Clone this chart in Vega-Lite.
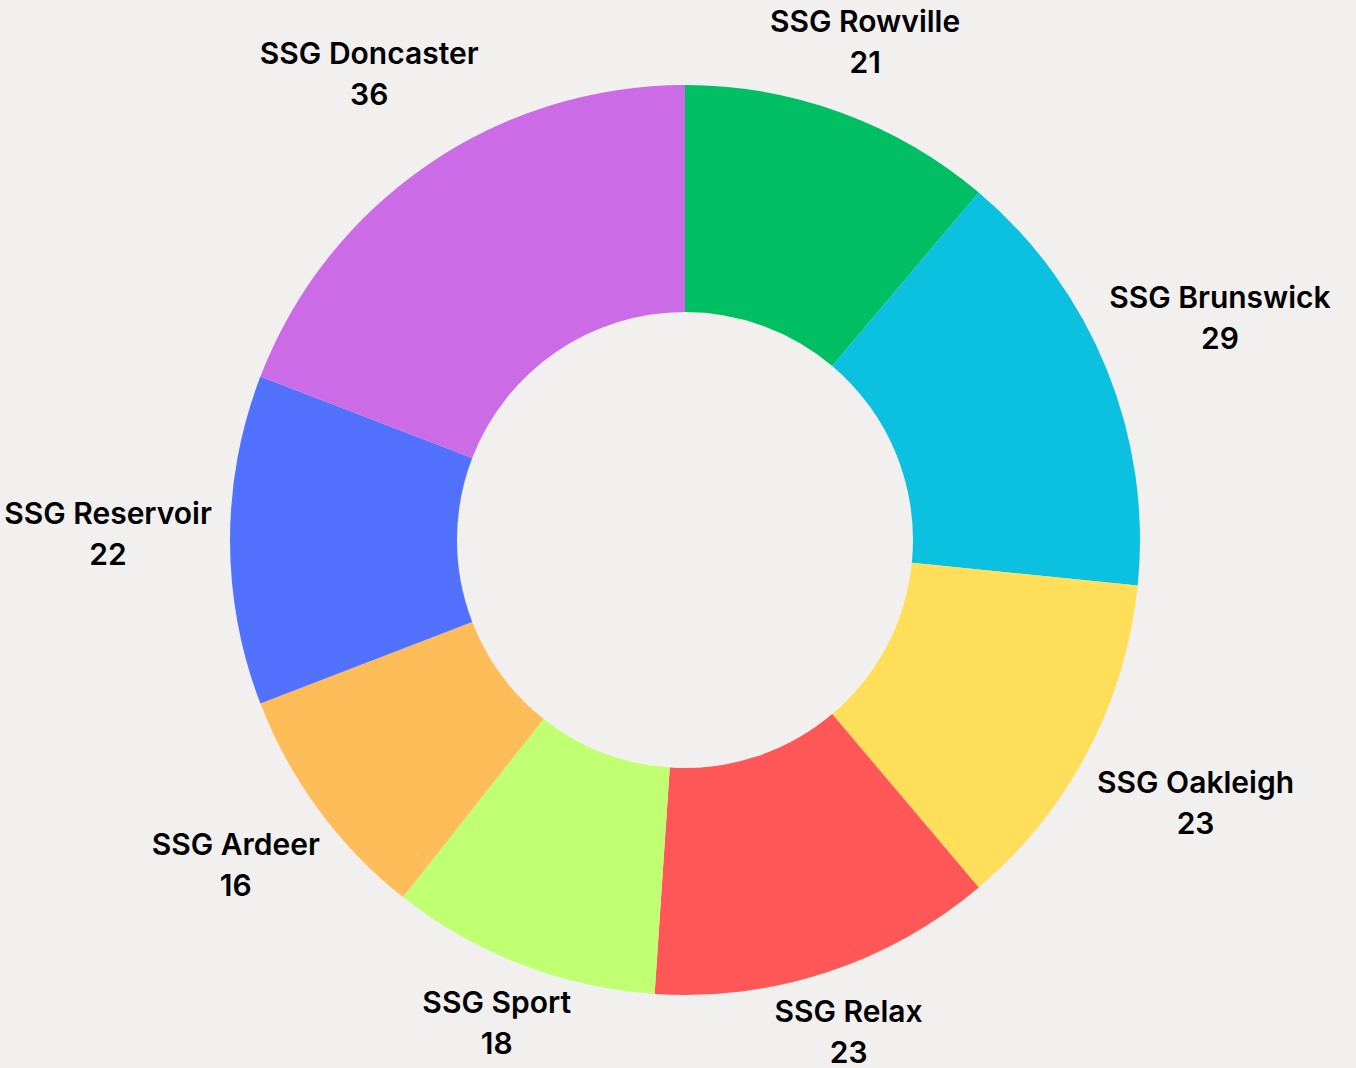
{
  "$schema": "https://vega.github.io/schema/vega-lite/v6.json",
  "autosize": "none",
  "width": 1342,
  "height": 1056,
  "padding": {"left": 14, "top": 12, "right": 0, "bottom": 0},
  "background": "#F1F0EE",
  "config": {"view": {"stroke": null}, "text": {"font": "Inter", "fontSize": 30, "fontWeight": 600, "color": "#000000"}},
  "data": {"values": [
    {"name": "SSG Rowville", "value": 21, "rank": 1},
    {"name": "SSG Brunswick", "value": 29, "rank": 2},
    {"name": "SSG Oakleigh", "value": 23, "rank": 3},
    {"name": "SSG Relax", "value": 23, "rank": 4},
    {"name": "SSG Sport", "value": 18, "rank": 5},
    {"name": "SSG Ardeer", "value": 16, "rank": 6},
    {"name": "SSG Reservoir", "value": 22, "rank": 7},
    {"name": "SSG Doncaster", "value": 36, "rank": 8}
  ]},
  "encoding": {
    "theta": {"field": "value", "type": "quantitative", "stack": true},
    "order": {"field": "rank", "type": "quantitative"}
  },
  "layer": [
    {
      "mark": {"type": "arc", "radius": 455, "radius2": 228},
      "encoding": {
        "color": {
          "field": "name", "type": "nominal", "legend": null,
          "scale": {
            "domain": ["SSG Rowville", "SSG Brunswick", "SSG Oakleigh", "SSG Relax", "SSG Sport", "SSG Ardeer", "SSG Reservoir", "SSG Doncaster"],
            "range": ["#00BF63", "#0CC0DF", "#FFDE59", "#FF5757", "#C1FF72", "#FFBD59", "#5271FF", "#CB6CE6"]
          }
        }
      }
    },
    {
      "mark": {"type": "text", "radius": 524, "dy": -25},
      "encoding": {"text": {"condition": {"test": "datum.rank === 1 || datum.rank === 4 || datum.rank === 5", "field": "name"}, "value": ""}, "detail": {"field": "name"}}
    },
    {
      "mark": {"type": "text", "radius": 524, "dy": 16},
      "encoding": {"text": {"condition": {"test": "datum.rank === 1 || datum.rank === 4 || datum.rank === 5", "field": "value", "type": "quantitative"}, "value": ""}, "detail": {"field": "name"}}
    },
    {
      "mark": {"type": "text", "radius": 558, "dy": -25},
      "encoding": {"text": {"condition": {"test": "datum.rank === 6 || datum.rank === 8", "field": "name"}, "value": ""}, "detail": {"field": "name"}}
    },
    {
      "mark": {"type": "text", "radius": 558, "dy": 16},
      "encoding": {"text": {"condition": {"test": "datum.rank === 6 || datum.rank === 8", "field": "value", "type": "quantitative"}, "value": ""}, "detail": {"field": "name"}}
    },
    {
      "mark": {"type": "text", "radius": 577, "dy": -25},
      "encoding": {"text": {"condition": {"test": "datum.rank === 2 || datum.rank === 3 || datum.rank === 7", "field": "name"}, "value": ""}, "detail": {"field": "name"}}
    },
    {
      "mark": {"type": "text", "radius": 577, "dy": 16},
      "encoding": {"text": {"condition": {"test": "datum.rank === 2 || datum.rank === 3 || datum.rank === 7", "field": "value", "type": "quantitative"}, "value": ""}, "detail": {"field": "name"}}
    }
  ]
}
